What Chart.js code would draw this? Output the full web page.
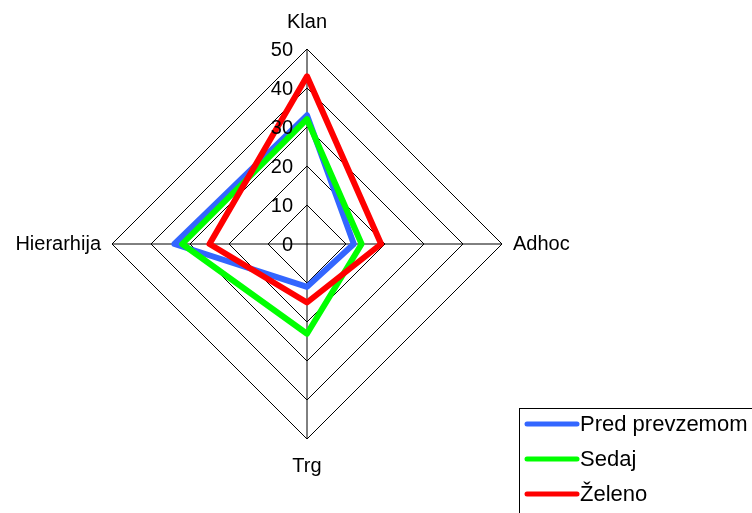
<!DOCTYPE html>
<html>
<head>
<meta charset="utf-8">
<script src="https://cdn.jsdelivr.net/npm/chart.js@4"></script>
<style>
  html, body { margin: 0; padding: 0; background: #fff; }
  canvas { display: block; }
</style>
</head>
<body>
<canvas id="radarChart" width="752" height="513"></canvas>
<script>
// --- Data ---
const axisLabels = ['Klan', 'Adhoc', 'Trg', 'Hierarhija'];
const tickValues = [0, 10, 20, 30, 40, 50];
const seriesNames = ['Pred prevzemom', 'Sedaj', 'Želeno'];
const predPrevzemom = [33, 12, 11, 34];
const sedaj = [32, 14, 23, 32];
const zeleno = [43, 19, 15, 25];

const seriesColors = ['#3366ff', '#00ff00', '#ff0000'];
const fontFamily = "'Liberation Sans', Arial, sans-serif";

// tick labels sit left of the vertical axis, right aligned
const tickLabelPlugin = {
    id: 'tickLabels',
    afterDatasetsDraw(chart) {
        const scale = chart.scales.r;
        const ctx = chart.ctx;
        ctx.save();
        ctx.font = '20px ' + fontFamily;
        ctx.fillStyle = '#000';
        ctx.textAlign = 'right';
        ctx.textBaseline = 'middle';
        tickValues.forEach(v => {
            const p = scale.getPointPositionForValue(0, v);
            ctx.fillText(String(v), scale.xCenter - 14, p.y + 1);
        });
        ctx.restore();
    }
};

// boxed legend in the lower right corner
const boxLegendPlugin = {
    id: 'boxLegend',
    afterDraw(chart) {
        const ctx = chart.ctx;
        const left = 519, top = 408;
        ctx.save();
        ctx.strokeStyle = '#000';
        ctx.lineWidth = 1;
        ctx.strokeRect(left + 0.5, top + 0.5, 260, 120);
        ctx.font = '22px ' + fontFamily;
        ctx.textAlign = 'left';
        ctx.textBaseline = 'middle';
        ctx.lineCap = 'round';
        ctx.lineWidth = 5;
        seriesNames.forEach((name, i) => {
            const y = top + 16 + i * 35;
            ctx.strokeStyle = seriesColors[i];
            ctx.beginPath();
            ctx.moveTo(left + 8, y);
            ctx.lineTo(left + 58, y);
            ctx.stroke();
            ctx.fillStyle = '#000';
            ctx.fillText(name, left + 61, y + 1);
        });
        ctx.restore();
    }
};

const seriesData = [predPrevzemom, sedaj, zeleno];

const radarChart = new Chart(document.getElementById('radarChart'), {
    type: 'radar',
    data: {
        labels: axisLabels,
        datasets: seriesNames.map((name, i) => ({
            label: name,
            data: seriesData[i],
            borderColor: seriesColors[i],
            backgroundColor: 'transparent',
            borderWidth: 6,
            borderJoinStyle: 'round',
            fill: false,
            pointRadius: 0,
            pointHoverRadius: 0,
            tension: 0,
            order: seriesNames.length - i
        }))
    },
    options: {
        responsive: false,
        animation: false,
        devicePixelRatio: 1,
        layout: {
            padding: { left: 0, right: 166, top: 10, bottom: 35 }
        },
        scales: {
            r: {
                min: 0,
                max: 50,
                beginAtZero: true,
                ticks: { stepSize: 10, display: false },
                grid: { color: '#000', lineWidth: 1 },
                angleLines: { color: '#000', lineWidth: 1 },
                pointLabels: {
                    color: '#000',
                    font: { family: fontFamily, size: 20 },
                    padding: ctx => (ctx.index % 2 === 0 ? 15 : 11)
                }
            }
        },
        plugins: {
            legend: { display: false },
            tooltip: { enabled: false }
        }
    },
    plugins: [tickLabelPlugin, boxLegendPlugin]
});
</script>
</body>
</html>
